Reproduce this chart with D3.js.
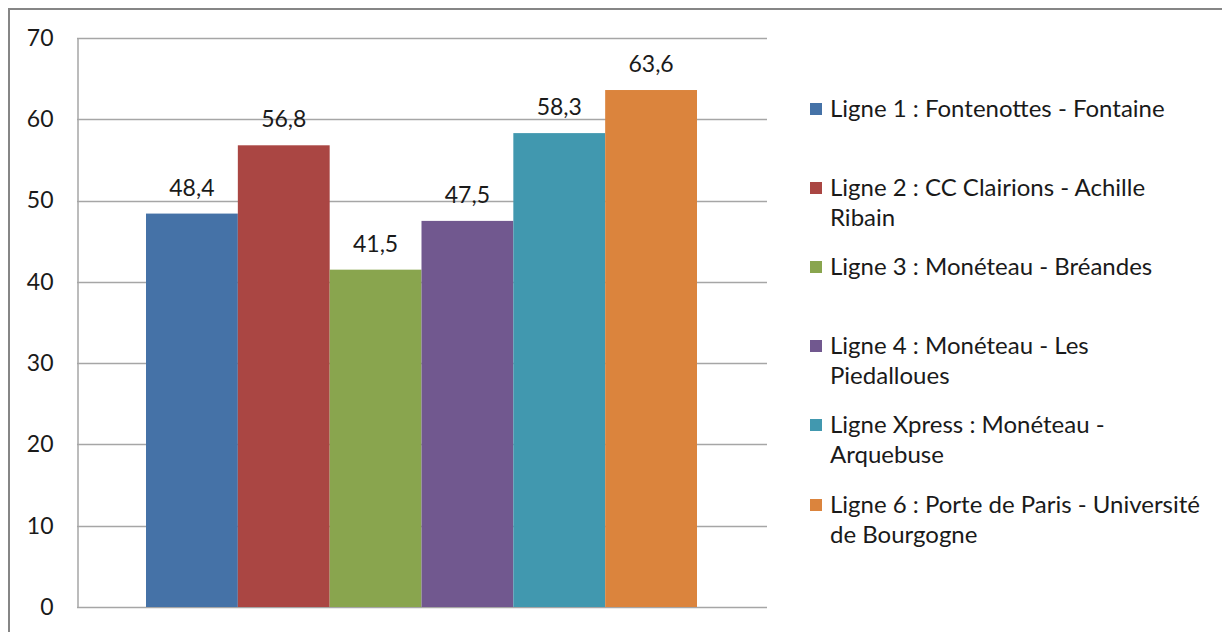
<!DOCTYPE html>
<html>
<head>
<meta charset="utf-8">
<script src="https://cdn.jsdelivr.net/npm/d3@7"></script>
<style>
  html, body { margin: 0; padding: 0; background: #fff; }
  svg { display: block; font-family: Lato, "Open Sans", sans-serif; }
</style>
</head>
<body>
<svg id="chart" width="1222" height="632"></svg>
<script>
// Bus lines and their values
const categories = [
  ["Ligne 1 : Fontenottes - Fontaine"],
  ["Ligne 2 : CC Clairions - Achille", "Ribain"],
  ["Ligne 3 : Monéteau - Bréandes"],
  ["Ligne 4 : Monéteau - Les", "Piedalloues"],
  ["Ligne Xpress : Monéteau -", "Arquebuse"],
  ["Ligne 6 : Porte de Paris - Université", "de Bourgogne"]
];
const values = [48.4, 56.8, 41.5, 47.5, 58.3, 63.6];
const colors = ["#4572a7", "#aa4643", "#89a54e", "#71588f", "#4198af", "#db843d"];
const yTicks = [0, 10, 20, 30, 40, 50, 60, 70];

const svg = d3.select("#chart");
const fontSize = 23;

// outer frame
svg.append("path")
  .attr("d", "M9,632 V9 H1222")
  .attr("fill", "none")
  .attr("stroke", "#868686")
  .attr("stroke-width", 2);

const plot = { left: 77, right: 767, top: 38, bottom: 607 };

const y = d3.scaleLinear().domain([0, 70]).range([plot.bottom, plot.top]);
const x = d3.scaleBand()
  .domain(d3.range(values.length))
  .range([146, 697])
  .padding(0);

// gridlines
svg.append("g")
  .selectAll("line")
  .data(yTicks)
  .join("line")
  .attr("x1", plot.left)
  .attr("x2", plot.right)
  .attr("y1", d => Math.round(y(d)) + 0.5)
  .attr("y2", d => Math.round(y(d)) + 0.5)
  .attr("stroke", "#a6a6a6")
  .attr("stroke-width", 1.5);

// y axis
const yAxis = d3.axisLeft(y).tickValues(yTicks).tickSize(0).tickPadding(24)
  .tickFormat(d3.format("d"));
const gy = svg.append("g").attr("transform", `translate(${plot.left + 0.5},0)`).call(yAxis);
gy.select(".domain").attr("stroke", "#a6a6a6").attr("stroke-width", 1.5);
gy.selectAll("text")
  .attr("font-size", fontSize)
  .attr("fill", "#1a1a1a")
  .attr("font-family", "Lato, 'Open Sans', sans-serif");

// bars
svg.append("g")
  .selectAll("rect")
  .data(values)
  .join("rect")
  .attr("x", (d, i) => x(i))
  .attr("width", x.bandwidth())
  .attr("y", d => y(d))
  .attr("height", d => y(0) - y(d))
  .attr("fill", (d, i) => colors[i]);

// value labels
svg.append("g")
  .selectAll("text")
  .data(values)
  .join("text")
  .attr("x", (d, i) => x(i) + x.bandwidth() / 2)
  .attr("y", d => y(d) - 18)
  .attr("text-anchor", "middle")
  .attr("font-size", fontSize)
  .attr("fill", "#1a1a1a")
  .text(d => d3.format(".1f")(d).replace(".", ","));

// legend
const legendTop = [109, 188, 267, 346, 425, 505];
const legend = svg.append("g")
  .selectAll("g")
  .data(categories)
  .join("g")
  .attr("transform", (d, i) => `translate(810,${legendTop[i]})`);

legend.append("rect")
  .attr("x", 0)
  .attr("y", -6)
  .attr("width", 12)
  .attr("height", 12)
  .attr("fill", (d, i) => colors[i]);

legend.append("text")
  .attr("x", 20)
  .attr("font-size", 24)
  .attr("fill", "#1a1a1a")
  .selectAll("tspan")
  .data(d => d)
  .join("tspan")
  .attr("x", 20)
  .attr("y", (d, j) => j * 30)
  .attr("dy", "0.35em")
  .text(d => d);
</script>
</body>
</html>
